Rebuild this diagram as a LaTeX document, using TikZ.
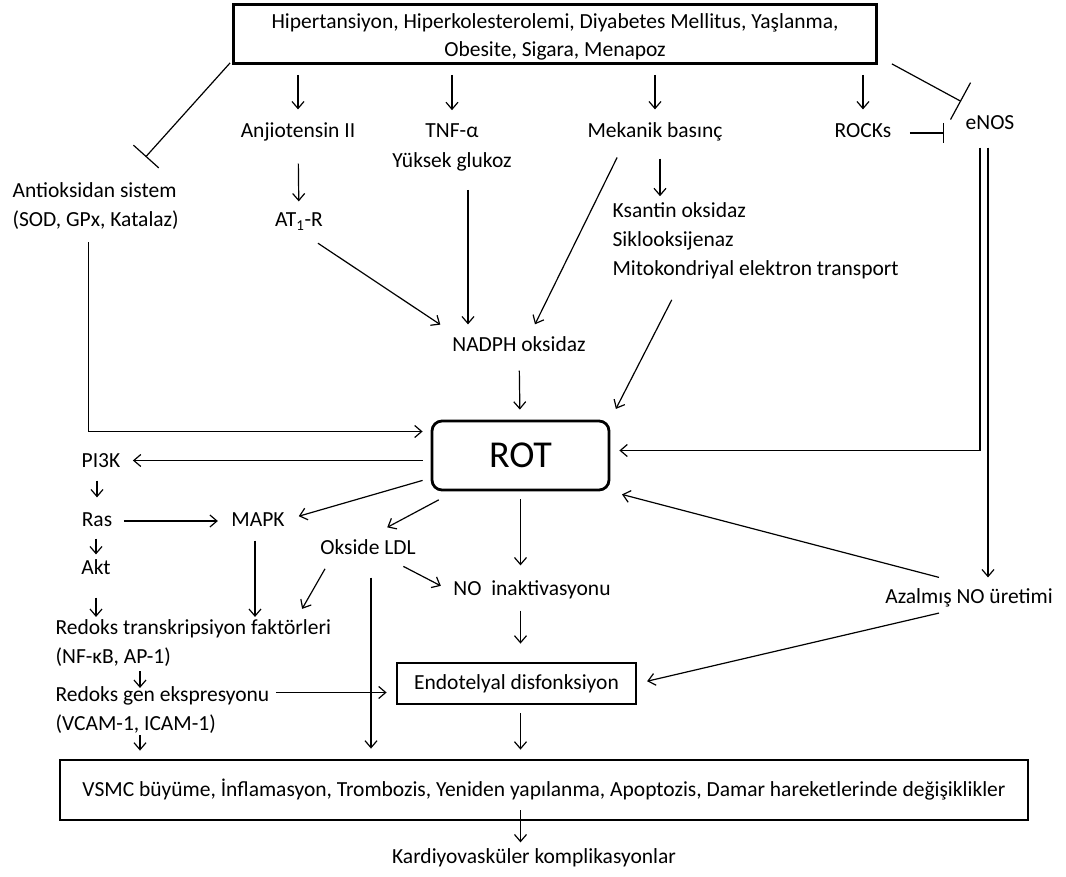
\documentclass[tikz,border=0pt]{standalone}
\usepackage{fontspec}
\setmainfont{Carlito}
\usetikzlibrary{arrows.meta,positioning,calc}
\tikzset{>={Straight Barb[length=7pt,width=12pt]},
  lbl/.style={inner sep=4pt,text height=15pt,text depth=5pt,font=\fontsize{21.5}{29}\selectfont},
  txt/.style={inner sep=4pt,align=left,font=\fontsize{21.5}{29}\selectfont},
  frame/.style={draw,line width=2.8pt,inner sep=0pt},
  inh/.style={-{Bar[width=#1]}},inh/.default=34pt}

\begin{document}
\begin{tikzpicture}[x=1pt,y=-1pt,line width=1.2pt]
    \useasboundingbox (0,0) rectangle (1066,877);
    \fill[white] (0,0) rectangle (1066,877);
    % risk factors
    \node[frame,minimum width=643pt,minimum height=59pt,align=center,font=\fontsize{21.5}{28}\selectfont] (risk) at (555,34) {\rule{0pt}{20pt}Hipertansiyon, Hiperkolesterolemi, Diyabetes Mellitus, Yaşlanma,\\Obesite, Sigara, Menapoz};
    \node[lbl] (ang) at (298,133) {Anjiotensin II};
    \node[txt,align=center,font=\fontsize{21.5}{30}\selectfont] (tnf) at (452,147.5) {TNF-α\\Yüksek glukoz};
    \node[lbl] (mek) at (655,133) {Mekanik basınç};
    \node[lbl] (rock) at (863,133) {ROCKs};
    \node[lbl] (enos) at (990,125) {eNOS};
    \node[txt,anchor=west] (anti) at (8,206) {Antioksidan sistem\\(SOD, GPx, Katalaz)};
    \node[lbl] (at1) at (299,222) {AT\textsubscript{1}-R};
    \node[txt,anchor=west] (ksan) at (608,241) {Ksantin oksidaz\\Siklooksijenaz\\Mitokondriyal elektron transport};
    \node[lbl] (nadph) at (519,347) {NADPH oksidaz};
    \node[frame,rounded corners=10pt,minimum width=177pt,minimum height=69pt,font=\fontsize{38}{40}\selectfont] (rot) at (520.5,455.5) {ROT};
    % signalling
    \node[lbl] (pik) at (101,462) {PI3K};
    \node[lbl] (ras) at (97,521) {Ras};
    \node[lbl] (akt) at (96,569) {Akt};
    \node[lbl] (mapk) at (258,521) {MAPK};
    \node[lbl] (oldl) at (368,549) {Okside LDL};
    \node[lbl] (noin) at (532,590) {NO\ \ inaktivasyonu};
    \node[lbl] (azno) at (969,598) {Azalmış NO üretimi};
    \node[txt,anchor=west] (rtf) at (51,643) {Redoks transkripsiyon faktörleri\\(NF-κB, AP-1)};
    \node[txt,anchor=west] (rgen) at (51,710) {Redoks gen ekspresyonu\\(VCAM-1, ICAM-1)};
    \node[frame,minimum width=239pt,minimum height=41pt,font=\fontsize{21.5}{29}\selectfont] (endo) at (516.5,683.5) {Endotelyal disfonksiyon};
    \node[frame,minimum width=968pt,minimum height=60pt,font=\fontsize{21.5}{29}\selectfont] (vsmc) at (544,790) {VSMC büyüme, İnflamasyon, Trombozis, Yeniden yapılanma, Apoptozis, Damar hareketlerinde değişiklikler};
    \node[lbl] (kard) at (534,858) {Kardiyovasküler komplikasyonlar};

    % top part
    \foreach \n in {ang,tnf,mek,rock}
      \draw[->,shorten <=10pt,shorten >=9pt] (\n |- risk.south) -- (\n.north);
    \draw[inh] ([xshift=-2pt,yshift=2pt]risk.south west) -- ([xshift=50pt,yshift=21pt]anti.north);
    \draw[inh=42pt] ([xshift=14pt,yshift=1pt]risk.south east) -- ([yshift=9pt]enos.north west);
    \draw[inh=20pt,shorten <=14pt,shorten >=17pt] (rock.east) -- (rock.east -| enos.west);
    \draw[->,shorten <=16pt,shorten >=6pt] (ang) -- (at1);
    \draw[->,shorten <=12pt,shorten >=14pt] ([xshift=9pt]at1.south) -- ([xshift=-67pt]nadph.north);
    \draw[->,shorten <=14pt,shorten >=8pt] ([xshift=16pt]tnf.south) -- ([xshift=16pt]tnf.south |- nadph.north);
    \draw[->,shorten <=11pt,shorten >=9pt] ([xshift=-33pt]mek.south) -- ([xshift=12pt]nadph.north);
    \draw[->,shorten <=11pt,shorten >=2pt] ([xshift=5pt]mek.south) -- ([xshift=5pt]mek.south |- ksan.north);
    \draw[->,shorten <=18pt,shorten >=12pt] ([xshift=72pt]ksan.south west) -- (rot.north east);
    \draw[->,shorten <=9pt,shorten >=10pt] (nadph) -- (rot);
    \draw[->,shorten <=8pt,shorten >=8pt] ([xshift=-7pt]anti.south) |- ([yshift=24pt]rot.west);
    \draw[->,shorten <=8pt,shorten >=9pt] ([xshift=-10pt]enos.south) |- ([yshift=5pt]rot.east);
    \draw[->,shorten <=8pt,shorten >=6pt] ([xshift=-2pt]enos.south) -- ([xshift=-2pt]enos.south |- azno.north);
    \draw[->,shorten >=12pt] ([xshift=-30pt,yshift=6pt]azno.north) -- (rot.south east);
    \draw[->,shorten <=2pt,shorten >=10pt] ([xshift=-28pt]azno.south) -- (endo.east);

    % lower part
    \draw[->,shorten <=8pt,shorten >=8pt] ([yshift=-5pt]rot.west) -- ([yshift=-5pt]rot.west -| pik.east);
    \draw[->,shorten <=4pt,shorten >=9pt] (ras |- pik.south) -- (ras.north);
    \draw[->,shorten <=3pt] (akt |- ras.south) -- (akt.north);
    \draw[->,shorten <=14pt,shorten >=-2pt] (akt.south) -- (akt.south |- rtf.north);
    \draw[->,shorten <=7pt,shorten >=9pt] (ras) -- (mapk);
    \draw[->,shorten >=10pt] ([xshift=-8pt,yshift=11pt]rot.south west) -- ([yshift=2pt]mapk.east);
    \draw[->,shorten <=18pt,shorten >=15pt] ([xshift=24pt]rot.south west) -- ([xshift=6pt]oldl.north);
    \draw[->,shorten <=8pt,shorten >=10pt] (rot.south) -- (rot.south |- noin.north);
    \draw[->,shorten <=6pt,shorten >=9pt] ([xshift=30pt]oldl.south) -- (noin.west);
    \draw[->,shorten <=6pt,shorten >=7pt] ([xshift=-40pt]oldl.south) -- ([xshift=-37pt]rtf.north east);
    \draw[->,shorten <=14pt,shorten >=10pt] ([xshift=3pt]oldl.south) -- ([xshift=3pt]oldl.south |- vsmc.north);
    \draw[->,shorten <=5pt,shorten >=-2pt] ([xshift=-3pt]mapk.south) -- ([xshift=-3pt]mapk.south |- rtf.north);
    \draw[->,shorten >=-6pt] ([xshift=89pt]rtf.south west) -- ([xshift=89pt]rgen.north west);
    \draw[->,shorten <=2pt,shorten >=9pt] ([yshift=-9pt]endo.west -| rgen.east) -- ([yshift=-9pt]endo.west);
    \draw[->,shorten <=-3pt,shorten >=8pt] ([xshift=89pt]rgen.south west) -- ([xshift=89pt]rgen.south west |- vsmc.north);
    \draw[->,shorten <=6pt,shorten >=18pt] (noin.south -| rot) -- (endo.north -| rot);
    \draw[->,shorten <=8pt,shorten >=9pt] (endo.south -| rot) -- (vsmc.north -| rot);
    \draw[->,shorten <=-11pt,shorten >=1pt] (vsmc.south -| rot) -- (kard.north -| rot);
\end{tikzpicture}
\end{document}
